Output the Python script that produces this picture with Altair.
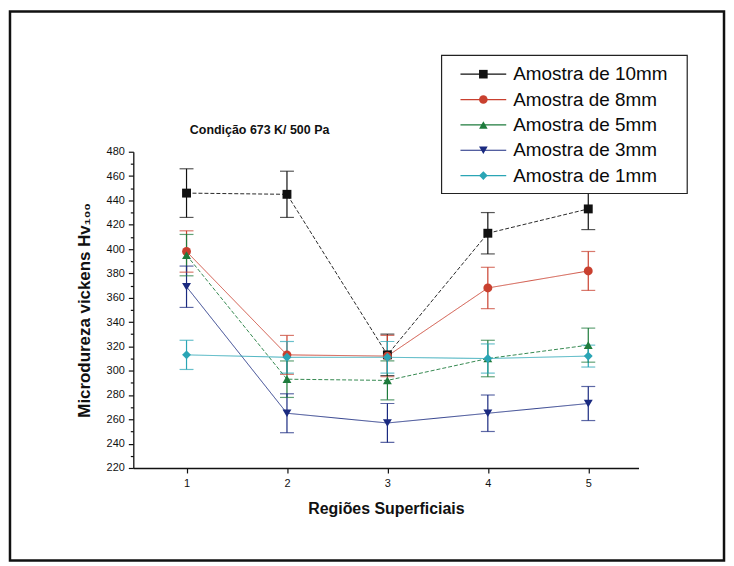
import altair as alt
import pandas as pd

regions = [1, 2, 3, 4, 5]
series_names = ["Amostra de 10mm", "Amostra de 8mm", "Amostra de 5mm",
                "Amostra de 3mm", "Amostra de 1mm"]
v10 = [446, 445, 313, 413, 433]
e10 = [20, 19, 17, 17, 17]
v8 = [398, 313, 312, 368, 382]
e8 = [17, 16, 17, 17, 16]
v5 = [395, 293, 292, 310, 321]
e5 = [17, 15, 16, 15, 14]
v3 = [369, 265, 257, 265, 273]
e3 = [17, 16, 16, 15, 14]
v1 = [313, 311, 311, 310, 312]
e1 = [12, 13, 13, 12, 9]
# major ticks every 20 (labelled), minor ticks in between
y_ticks = [220, 230, 240, 250, 260, 270, 280, 290, 300, 310, 320, 330, 340, 350, 360,
           370, 380, 390, 400, 410, 420, 430, 440, 450, 460, 470, 480]
x_ticks = [1, 1.5, 2, 2.5, 3, 3.5, 4, 4.5, 5, 5.5]

values = [v10, v8, v5, v3, v1]
errors = [e10, e8, e5, e3, e1]
colors = ["#111111", "#c9402f", "#1e7b3c", "#1a2a80", "#2aa5b5"]
dashes = [[4, 2], [1, 0], [4, 2], [1, 0], [1, 0]]
shapes = ["square", "circle", "triangle-up", "triangle-down", "diamond"]

rows = []
for name, vals, errs in zip(series_names, values, errors):
    for r, v, e in zip(regions, vals, errs):
        rows.append({"serie": name, "regiao": r, "hv": v, "lo": v - e, "hi": v + e})
df = pd.DataFrame(rows)
leg_df = pd.DataFrame({"serie": series_names})

FONT = "Liberation Sans"

xs = alt.Scale(domain=[0.47, 5.5], nice=False, zero=False)
ys = alt.Scale(domain=[220, 480], nice=False, zero=False)
cscale = alt.Scale(domain=series_names, range=colors)
sscale = alt.Scale(domain=series_names, range=shapes)

x_axis = alt.Axis(
    title="Regiões Superficiais", values=x_ticks, format="d",
    labelExpr="datum.value % 1 === 0 ? datum.label : ''",
    tickSize={"condition": {"test": "datum.value % 1 === 0", "value": 5}, "value": 3},
    labelOverlap=False,
    grid=False, labelFontSize=11, labelPadding=5, titleFontSize=16,
    titleFontWeight="bold", titlePadding=12, labelFont=FONT, titleFont=FONT,
    domainColor="#111", tickColor="#111", labelColor="#111", titleColor="#111",
    domainWidth=1.3, tickWidth=1.2, labelFlush=False,
)
y_axis = alt.Axis(
    title="Microdureza vickens Hv₁₀₀", values=y_ticks,
    labelExpr="datum.value % 20 === 0 ? datum.label : ''",
    tickSize={"condition": {"test": "datum.value % 20 === 0", "value": 5}, "value": 3},
    labelOverlap=False,
    grid=False, labelFontSize=11, labelPadding=4, titleFontSize=17,
    titleFontWeight="bold", titlePadding=13, labelFont=FONT, titleFont=FONT,
    domainColor="#111", tickColor="#111", labelColor="#111", titleColor="#111",
    domainWidth=1.3, tickWidth=1.2, labelFlush=False,
)

Xn = alt.X("regiao:Q", scale=xs, axis=x_axis)
Yn = alt.Y("hv:Q", scale=ys, axis=y_axis)
col = alt.Color("serie:N", scale=cscale, legend=None)

base = alt.Chart(df)

lines = base.mark_line(strokeWidth=1, opacity=0.9).encode(
    x=Xn, y=Yn, color=col,
    strokeDash=alt.StrokeDash("serie:N", scale=alt.Scale(domain=series_names, range=dashes), legend=None),
)
rules = base.mark_rule(strokeWidth=1.2).encode(
    x=Xn, y=alt.Y("lo:Q", scale=ys, axis=y_axis), y2="hi:Q", color=col,
)
cap_lo = base.mark_tick(orient="horizontal", size=14, thickness=1.2).encode(
    x=Xn, y=alt.Y("lo:Q", scale=ys, axis=y_axis), color=col,
)
cap_hi = base.mark_tick(orient="horizontal", size=14, thickness=1.2).encode(
    x=Xn, y=alt.Y("hi:Q", scale=ys, axis=y_axis), color=col,
)
points = base.mark_point(filled=True, size=80, opacity=1).encode(
    x=Xn, y=Yn, color=col,
    shape=alt.Shape("serie:N", scale=sscale, legend=None),
)
data_layer = alt.layer(lines, rules, cap_lo, cap_hi, points)

# legend drawn from the series list
ly = alt.Y("serie:N", scale=alt.Scale(type="point", domain=series_names, range=[-78, 24], padding=0),
           axis=None)
lbase = alt.Chart(leg_df)
leg_lines = lbase.mark_rule(strokeWidth=1.2).encode(
    x=alt.value(329), x2=alt.value(375), y=ly, color=col)
leg_points = lbase.mark_point(filled=True, size=75, opacity=1).encode(
    x=alt.value(352), y=ly, color=col, shape=alt.Shape("serie:N", scale=sscale, legend=None))
leg_text = lbase.mark_text(font=FONT, fontSize=19, color="#0a0a0a", align="left",
                           baseline="middle").encode(x=alt.value(382), y=ly, text="serie:N")
legend_layer = alt.layer(leg_lines, leg_points, leg_text)

one = pd.DataFrame({"k": [0]})
frame = alt.Chart(one).mark_rect(fill="white", fillOpacity=0, stroke="#111", strokeWidth=2.5).encode(
    x=alt.value(-124), x2=alt.value(594), y=alt.value(-141), y2=alt.value(411)
)
legend_box = alt.Chart(one).mark_rect(fill="white", stroke="#222", strokeWidth=1.2).encode(
    x=alt.value(310), x2=alt.value(557), y=alt.value(-97), y2=alt.value(42)
)
title = alt.Chart(pd.DataFrame({"t": ["Condição 673 K/ 500 Pa"]})).mark_text(
    font=FONT, fontSize=12.5, fontWeight="bold", color="#111", align="center", baseline="middle"
).encode(x=alt.value(127), y=alt.value(-22), text="t:N")

chart = alt.layer(frame, data_layer, legend_box, legend_layer, title).resolve_scale(
    y="independent"
).properties(
    width=508, height=318, padding=0, background="white"
).configure_view(stroke=None).configure_axis(labelOverlap=False)

chart.save("out.html", embed_options={"renderer": "svg", "actions": False})
